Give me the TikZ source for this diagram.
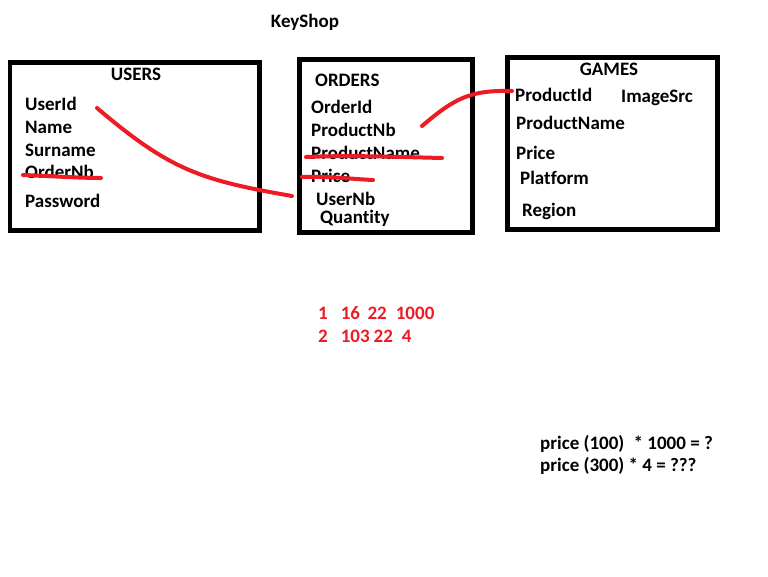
\documentclass[tikz,border=0pt]{standalone}
\usepackage{fontspec}
\setmainfont[Ligatures={NoCommon}]{Carlito}
\definecolor{pred}{RGB}{237,28,36}
\begin{document}
\begin{tikzpicture}[x=1pt,y=-1pt,
  txt/.style={anchor=base west,inner sep=0pt,font=\fontsize{19}{20}\selectfont\bfseries},
  ctxt/.style={anchor=base,inner sep=0pt,font=\fontsize{19}{20}\selectfont\bfseries},
  tbl/.style={draw=black,line width=4.5pt},
  pen/.style={draw=pred,line width=4pt,line cap=round,line join=round}]
\useasboundingbox[fill=white] (0,0) rectangle (768,576);
\node[ctxt] (title) at (305,27) {KeyShop};
% boxes
\draw[tbl] (10,62.5) rectangle (259.5,230.5);
\draw[tbl] (299.5,59.5) rectangle (472.5,232.5);
\draw[tbl] (507.5,57.5) rectangle (717.5,229.5);
% USERS
\node[ctxt] (users) at (136,80) {USERS};
\node[txt] (uid) at (25,110) {UserId};
\node[txt] (uname) at (25,133) {Name};
\node[txt] (usur) at (25,156) {Surname};
\node[txt] (uord) at (25,178) {OrderNb};
\node[txt] (upw) at (25,207) {Password};
% ORDERS
\node[txt] (orders) at (315,86) {ORDERS};
\node[txt] (oid) at (311,113) {OrderId};
\node[txt] (opn) at (311,136) {ProductNb};
\node[txt] (opname) at (311,159) {ProductName};
\node[txt] (oprice) at (311,182) {Price};
\node[txt] (ouser) at (316,205) {UserNb};
\node[txt] (oqty) at (320,223) {Quantity};
% GAMES
\node[ctxt] (games) at (609,75) {GAMES};
\node[txt] (gid) at (515,101) {ProductId};
\node[txt] (gimg) at (621,102) {ImageSrc};
\node[txt] (gname) at (516,129) {ProductName};
\node[txt] (gprice) at (516,159) {Price};
\node[txt] (gplat) at (520,184) {Platform};
\node[txt] (greg) at (522,216) {Region};
% numbers
\node[txt,text=pred] (r1) at (318,319) {1\hspace{13pt}16\hspace{7.5pt}22\hspace{9pt}1000};
\node[txt,text=pred] (r2) at (318,342) {2\hspace{13pt}103\hspace{4pt}22\hspace{9pt}4};
\node[txt] (p1) at (540,449) {price (100)\hspace{5pt} * 1000 = ?};
\node[txt] (p2) at (540,471) {price (300) * 4 = ???};
% red strokes
\coordinate (a1) at (97,108);
\coordinate (a2) at (292,196);
\draw[pen] (a1) .. controls (170,170) and (200,180) .. (a2);
\coordinate (b1) at (422,126);
\coordinate (b2) at (512,91);
\draw[pen] (b1) .. controls (455,98) and (470,90) .. (b2);
\draw[pen] (23,175) .. controls (50,176) and (80,178) .. (101,178);
\draw[pen] (306,157) .. controls (350,155) and (400,157) .. (442,158);
\draw[pen] (302,177) .. controls (330,176) and (350,179) .. (373,180);
\end{tikzpicture}
\end{document}
